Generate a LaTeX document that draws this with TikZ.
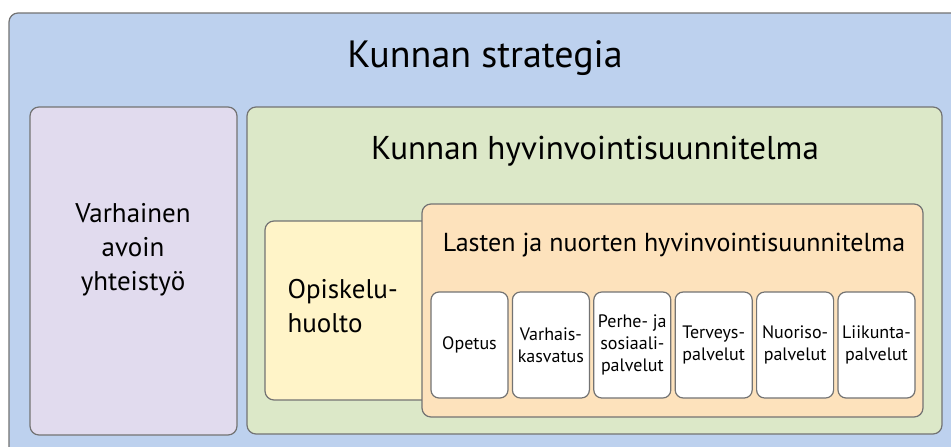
\documentclass[tikz,border=0pt]{standalone}
\usepackage{fontspec}
\setmainfont{PT Sans}
\definecolor{cblue}{RGB}{189,209,238}
\definecolor{cpurple}{RGB}{225,219,238}
\definecolor{cgreen}{RGB}{220,232,200}
\definecolor{cyellow}{RGB}{255,244,200}
\definecolor{corange}{RGB}{253,226,188}
\definecolor{cline}{RGB}{115,115,115}
\begin{document}
\begin{tikzpicture}[x=1pt,y=-1pt,
  panel/.style={draw=cline,line width=1.2pt,rounded corners=9pt},
  svc/.style={panel,fill=white,rounded corners=8pt},
  svctext/.style={align=center,font=\fontsize{18}{22}\selectfont,inner sep=0pt}]
\useasboundingbox (0,0) rectangle (951,447);
\clip (0,0) rectangle (951,447);
\fill[white] (0,0) rectangle (951,447);
\draw[panel,fill=cblue] (9,13) rectangle (980,480);
\node[font=\fontsize{38}{42}\selectfont] (strat) at (485,58) {Kunnan strategia};
\draw[panel,fill=cpurple] (30,107) rectangle (237,435);
\node[align=center,font=\fontsize{27}{34}\selectfont] (varh) at (133,250) {Varhainen\\avoin\\yhteistyö};
\draw[panel,fill=cgreen] (247,107) rectangle (942,434);
\node[font=\fontsize{33}{36}\selectfont] (hyv) at (595,151) {Kunnan hyvinvointisuunnitelma};
\draw[panel,fill=cyellow] (265,221) rectangle (440,400);
\node[align=left,anchor=west,font=\fontsize{27}{34}\selectfont] (opis) at (284,306) {Opiskelu-\\huolto};
\draw[panel,fill=corange] (422,204) rectangle (923,417);
\node[font=\fontsize{26}{30}\selectfont] (lnh) at (674,245) {Lasten ja nuorten hyvinvointisuunnitelma};
\foreach \i/\t in {0/{Opetus},1/{Varhais-\\kasvatus},2/{Perhe- ja\\sosiaali-\\palvelut},3/{Terveys-\\palvelut},4/{Nuoriso-\\palvelut},5/{Liikunta-\\palvelut}}{
  \pgfmathsetmacro{\xa}{431+81.4*\i}
  \draw[svc] (\xa,292) rectangle ++(77,106);
  \node[svctext] (s\i) at (\xa+38.5,345) {\t};
}
\end{tikzpicture}
\end{document}
